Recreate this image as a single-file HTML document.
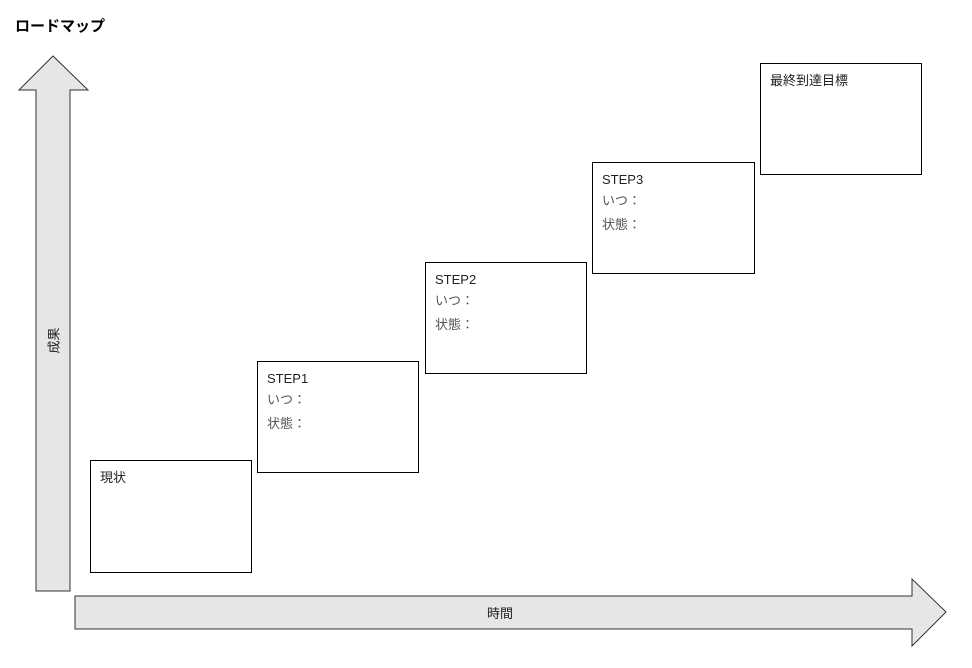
<!DOCTYPE html>
<html><head><meta charset="utf-8"><style>
body{margin:0;width:972px;height:668px;background:#fff;position:relative;overflow:hidden;font-family:"Liberation Sans","Noto Sans CJK JP",sans-serif;}
.b{position:absolute;border:1px solid #000;background:#fff;box-sizing:border-box;font-size:13px;color:#222;padding:8px 9px;line-height:25px}
.b div{line-height:24px}
.g{color:#555}
.t{position:absolute;font-size:13px;color:#222}
</style></head><body>
<div class="t" style="left:15px;top:15px;font-weight:bold;font-size:15px;color:#000">ロードマップ</div>
<svg width="972" height="668" style="position:absolute;left:0;top:0">
<polygon points="36,591 36,90 19,90 53,56 88,90 70,90 70,591" fill="#e6e6e6" stroke="#333" stroke-width="1"/>
<polygon points="75,596 912,596 912,579 946,612 912,646 912,629 75,629" fill="#e6e6e6" stroke="#333" stroke-width="1"/>
</svg>
<div class="t" style="left:38px;top:331px;transform:rotate(-90deg);transform-origin:center;width:30px;text-align:center">成果</div>
<div class="t" style="left:487px;top:603px">時間</div>
<div class="b" style="left:90px;top:460px;width:162px;height:113px;line-height:18px">現状</div>
<div class="b" style="left:257px;top:361px;width:162px;height:112px;line-height:18px">STEP1<div class="g">いつ：</div><div class="g">状態：</div></div>
<div class="b" style="left:425px;top:262px;width:162px;height:112px;line-height:18px">STEP2<div class="g">いつ：</div><div class="g">状態：</div></div>
<div class="b" style="left:592px;top:162px;width:163px;height:112px;line-height:18px">STEP3<div class="g">いつ：</div><div class="g">状態：</div></div>
<div class="b" style="left:760px;top:63px;width:162px;height:112px;line-height:18px">最終到達目標</div>
</body></html>
